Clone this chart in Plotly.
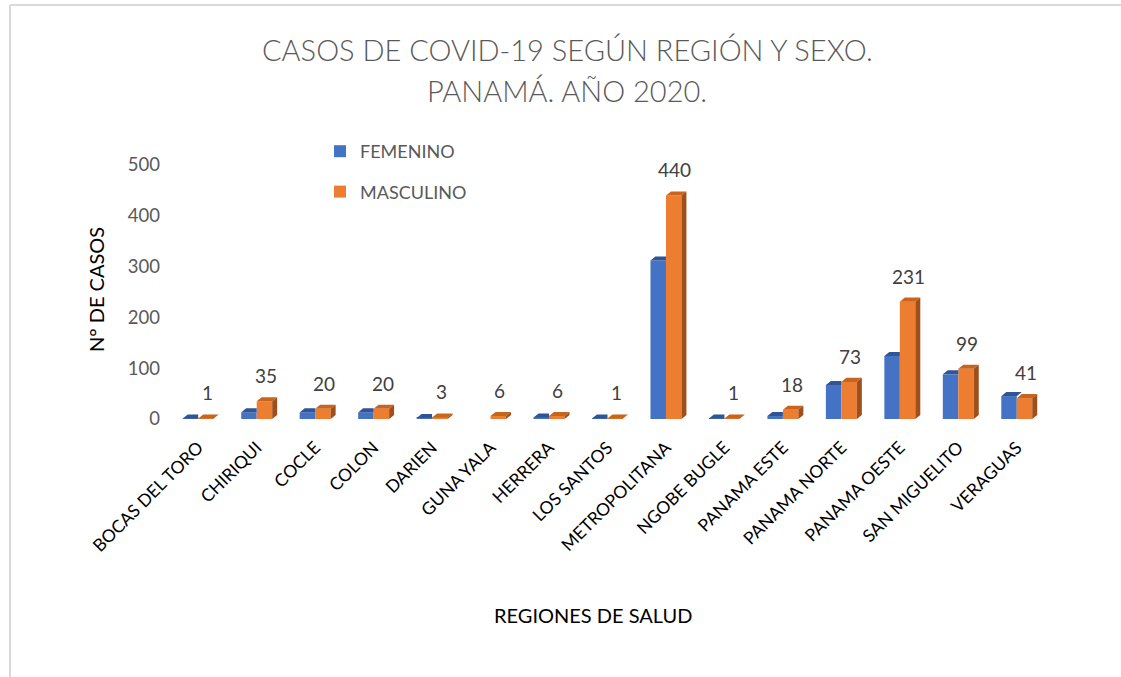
import plotly.graph_objects as go

regiones = ["BOCAS DEL TORO", "CHIRIQUI", "COCLE", "COLON", "DARIEN", "GUNA YALA",
            "HERRERA", "LOS SANTOS", "METROPOLITANA", "NGOBE BUGLE", "PANAMA ESTE",
            "PANAMA NORTE", "PANAMA OESTE", "SAN MIGUELITO", "VERAGUAS"]
femenino = [1, 13, 13, 13, 2, 0, 3, 1, 312, 1, 6, 67, 124, 88, 45]
masculino = [1, 35, 20, 20, 3, 6, 6, 1, 440, 1, 18, 73, 231, 99, 41]
y_ticks = [0, 100, 200, 300, 400, 500]

FONT = "Lato"
BLUE, BLUE_TOP = "#4472C4", "#2F5597"
ORANGE, ORANGE_TOP, ORANGE_SIDE = "#ED7D31", "#C8641C", "#9F4F1B"

W = 0.265   # bar width (category units)
DX = 0.085  # depth offset x (category units)
DY = 8      # depth offset y (value units)

idx = list(range(len(regiones)))

fig = go.Figure()
fig.add_trace(go.Bar(name="FEMENINO", x=idx, y=femenino, width=W, offset=-W,
                     marker=dict(color=BLUE, line=dict(width=0)), legendgroup="f"))
fig.add_trace(go.Bar(name="MASCULINO", x=idx, y=masculino, width=W, offset=0,
                     marker=dict(color=ORANGE, line=dict(width=0)), legendgroup="m"))

# pseudo-3D faces
bx, by = [], []
for i, f, m in zip(idx, femenino, masculino):
    if f <= 0:
        continue
    if m >= f:
        pts = [(i - W, f), (i, f), (i, f + DY), (i - W + DX, f + DY)]
    else:
        pts = [(i - W, f), (i, f), (i + DX, f + DY), (i - W + DX, f + DY)]
    for px, py in pts + [pts[0]]:
        bx.append(px); by.append(py)
    bx.append(None); by.append(None)

otx, oty, osx, osy = [], [], [], []
for i, m in zip(idx, masculino):
    top = [(i, m), (i + W, m), (i + W + DX, m + DY), (i + DX, m + DY)]
    side = [(i + W, 0), (i + W + DX, DY), (i + W + DX, m + DY), (i + W, m)]
    for px, py in top + [top[0]]:
        otx.append(px); oty.append(py)
    otx.append(None); oty.append(None)
    for px, py in side + [side[0]]:
        osx.append(px); osy.append(py)
    osx.append(None); osy.append(None)

for xs, ys, col in [(bx, by, BLUE_TOP), (otx, oty, ORANGE_TOP), (osx, osy, ORANGE_SIDE)]:
    fig.add_trace(go.Scatter(x=xs, y=ys, mode="lines", fill="toself", fillcolor=col,
                             line=dict(width=0, color=col), showlegend=False,
                             hoverinfo="skip"))

# data labels
for i, m in zip(idx, masculino):
    fig.add_annotation(x=i + W / 2 + 0.02, y=m, text=str(m), showarrow=False,
                       xanchor="center", yanchor="bottom", yshift=12,
                       font=dict(family=FONT, size=19, color="#404040"))

L, R, T, B = 169, 75, 165, 258
pw, ph = 1121 - L - R, 677 - T - B

def px_x(p):
    return (p - L) / pw

def px_y(p):
    return (677 - B - p) / ph

# titles
fig.add_annotation(xref="paper", yref="paper", x=px_x(567), y=px_y(50),
                   xanchor="center", yanchor="middle",
                   text="CASOS DE COVID-19 SEGÚN REGIÓN Y SEXO.", showarrow=False,
                   font=dict(family=FONT, size=29, color="#595959", weight=300))
fig.add_annotation(xref="paper", yref="paper", x=px_x(567), y=px_y(90),
                   xanchor="center", yanchor="middle",
                   text="PANAMÁ. AÑO 2020.", showarrow=False,
                   font=dict(family=FONT, size=29, color="#595959", weight=300))
fig.add_annotation(xref="paper", yref="paper", x=px_x(593), y=px_y(615),
                   xanchor="center", yanchor="middle",
                   text="REGIONES DE SALUD", showarrow=False,
                   font=dict(family=FONT, size=20, color="#000000"))
fig.add_annotation(xref="paper", yref="paper", x=px_x(96), y=px_y(290),
                   xanchor="center", yanchor="middle",
                   text="N° DE CASOS", showarrow=False, textangle=-90,
                   font=dict(family=FONT, size=20, color="#000000"))

# outer frame
fig.add_shape(type="line", xref="paper", yref="paper", x0=px_x(10), x1=px_x(1121),
              y0=px_y(5), y1=px_y(5), line=dict(color="#D9D9D9", width=2))
fig.add_shape(type="line", xref="paper", yref="paper", x0=px_x(10), x1=px_x(10),
              y0=px_y(5), y1=px_y(677), line=dict(color="#D9D9D9", width=2))

fig.update_layout(
    width=1121, height=677,
    margin=dict(l=L, r=R, t=T, b=B),
    paper_bgcolor="white", plot_bgcolor="white",
    barmode="overlay",
    showlegend=True,
    legend=dict(x=px_x(320), y=px_y(133), xanchor="left", yanchor="top",
                font=dict(family=FONT, size=18, color="#595959"),
                tracegroupgap=14, bgcolor="rgba(0,0,0,0)"),
    xaxis=dict(range=[-0.5, 14.5], tickmode="array", tickvals=idx, ticktext=regiones,
               tickangle=-45, showgrid=False, zeroline=False, showline=False,
               ticks="", ticklabelstandoff=14,
               tickfont=dict(family=FONT, size=17.5, color="#000000")),
    yaxis=dict(range=[0, 500], tickmode="array", tickvals=y_ticks,
               showgrid=False, zeroline=False, showline=False, ticks="",
               ticklabelstandoff=8,
               tickfont=dict(family=FONT, size=18.5, color="#595959")),
)

fig.write_html("out.html", post_script="document.body.style.margin='0';",
               config={"displayModeBar": False})
